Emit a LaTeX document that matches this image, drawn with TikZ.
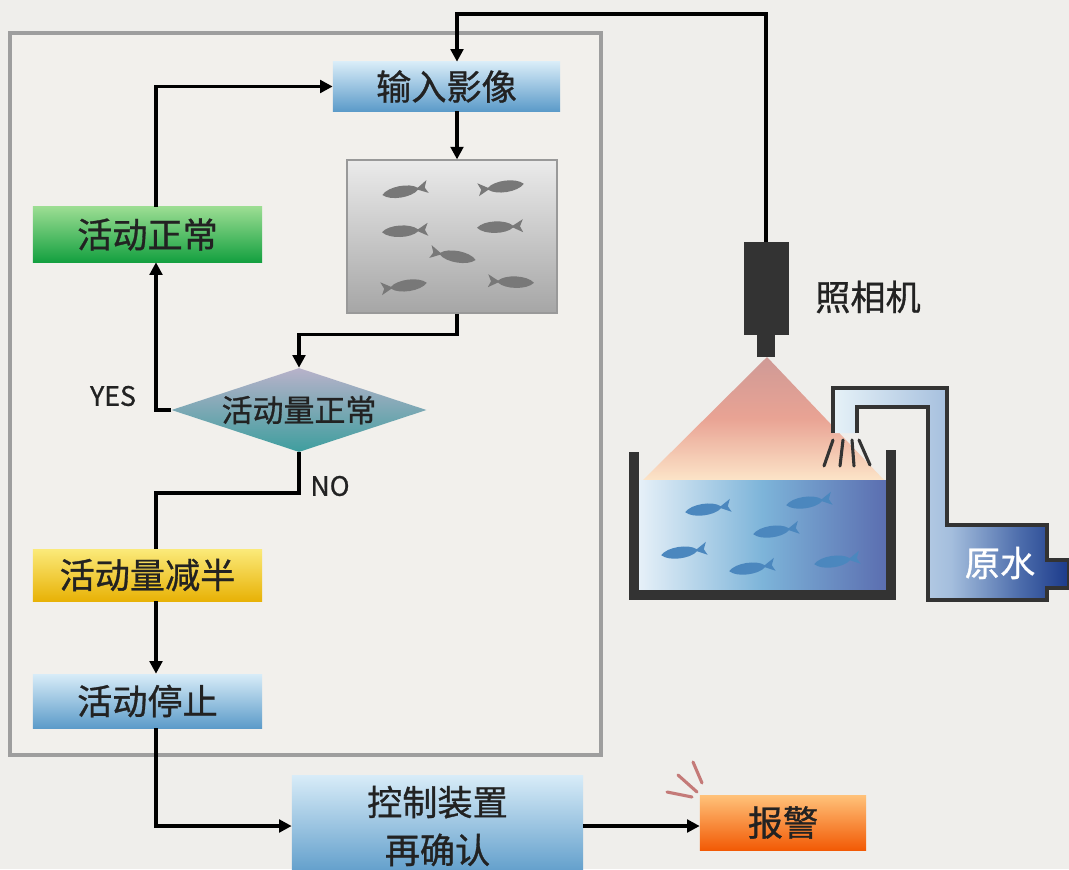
\documentclass[tikz,border=0pt]{standalone}
\usepackage{fontspec}
\newfontfamily\cjk[FakeBold=0.9]{Noto Sans CJK SC}
\usetikzlibrary{arrows.meta,shapes.geometric}
\definecolor{bgcol}{HTML}{EFEEEB}
\definecolor{panelbg}{HTML}{F2F0EC}
\definecolor{panelline}{HTML}{9E9E9E}
\definecolor{ink}{HTML}{222222}
\definecolor{blueTop}{HTML}{D8ECF8}
\definecolor{blueBot}{HTML}{5C9BC9}
\definecolor{greenTop}{HTML}{9BDD92}
\definecolor{greenBot}{HTML}{14A040}
\definecolor{yellowTop}{HTML}{FBEA7A}
\definecolor{yellowBot}{HTML}{E8B206}
\definecolor{orangeTop}{HTML}{FFC27A}
\definecolor{orangeBot}{HTML}{F25A05}
\definecolor{diaTop}{HTML}{B8B2CA}
\definecolor{diaBot}{HTML}{3E9E9E}
\definecolor{darkgear}{HTML}{333333}
\definecolor{coneTop}{HTML}{CF9A96}
\definecolor{coneMid}{HTML}{E9A394}
\definecolor{coneBot}{HTML}{FCE4C8}
\definecolor{waterL}{HTML}{E6F0F8}
\definecolor{waterM}{HTML}{7DB4D9}
\definecolor{waterR}{HTML}{5B6EB0}
\definecolor{pipeA}{HTML}{E6F2F8}
\definecolor{pipeB}{HTML}{A4BEDD}
\definecolor{pipeC}{HTML}{4A6AAA}
\definecolor{pipeD}{HTML}{1B3A8A}
\definecolor{fishgray}{HTML}{787878}
\definecolor{fishblue}{HTML}{4B87BE}
\definecolor{ringcol}{HTML}{C47A78}

\pgfdeclareverticalshading{coneshade}{100bp}{color(0bp)=(coneBot); color(25bp)=(coneBot); color(50bp)=(coneMid); color(75bp)=(coneTop); color(100bp)=(coneTop)}
\pgfdeclarehorizontalshading{watershade}{100bp}{color(0bp)=(waterL); color(25bp)=(waterL); color(50bp)=(waterM); color(75bp)=(waterR); color(100bp)=(waterR)}
\pgfdeclarehorizontalshading{pipeshade}{100bp}{color(0bp)=(pipeA); color(25bp)=(pipeA); color(50bp)=(pipeB); color(65bp)=(pipeC); color(75bp)=(pipeD); color(100bp)=(pipeD)}

\tikzset{
  fish/.pic={
    \fill (-23,0) .. controls (-16,-7.5) and (6,-7.5) .. (13,-1) -- (23,-7) -- (20,0)
      -- (23,6) -- (13,1) .. controls (6,7.5) and (-16,7.5) .. (-23,0) -- cycle;
  }
}

\begin{document}
\begin{tikzpicture}[x=0.025cm, y=-0.025cm,
    box/.style={font=\cjk\fontsize{25pt}{34pt}\selectfont, text=ink, align=center, inner sep=0pt},
    bluebox/.style={box, top color=blueTop, bottom color=blueBot},
    conn/.style={line width=2.6pt, -{Triangle[length=9pt,width=9pt]}},
    wire/.style={line width=2.6pt},
    lbl/.style={font=\cjk\fontsize{19pt}{22pt}\selectfont, text=ink}]
  \useasboundingbox (0,0) rectangle (1069,869);
  \fill[bgcol] (0,0) rectangle (1069,869);
  % processing unit
  \draw[panelline, line width=2.4pt, fill=panelbg] (10,33) rectangle (601,755);

  % light cone and tank
  \shade[shading=coneshade] (767,357) -- (884,480) -- (643,480) -- cycle;
  \shade[shading=watershade] (639,480) rectangle (886,591);
  \draw[darkgear, line width=6.5pt] (634,452) -- (634,595) -- (891,595) -- (891,450);
  \foreach \p in {(708,509),(809,502),(776,531),(684,552),(752,568),(837,561)}
    \pic[color=fishblue, rotate=8] at \p {fish};

  % inlet pipe
  \shade[shading=pipeshade, draw=darkgear, line width=2.2pt]
    (833,433) -- (833,388) -- (947,388) -- (947,525) -- (1047,525) -- (1047,560)
    -- (1069,560) -- (1069,588) -- (1047,588) -- (1047,600) -- (928,600)
    -- (928,407) -- (857,407) -- (857,433);
  \node[box, text=white] (raw) at (1000,563) {原水};
  % spray
  \draw[darkgear, line width=2.2pt, line cap=round]
    (833,440) -- (824,466) (843,440) -- (840,466)
    (852,440) -- (854,466) (859,440) -- (870,465);

  % camera
  \node[fill=darkgear, minimum width=1.125cm, minimum height=2.325cm, inner sep=0pt] (camera) at (766,288.5) {};
  \fill[darkgear] (757,334) rectangle (775,357);
  \node[box] (camlabel) at (868,297) {照相机};

  % flow chart
  \node[bluebox, minimum width=5.675cm, minimum height=1.225cm] (input) at (446.5,86.5) {输入影像};
  \node[top color=black!8, bottom color=black!35, draw=black!40, line width=0.8pt,
        minimum width=5.25cm, minimum height=3.825cm] (img) at (452,236.5) {};
  \node[box, top color=greenTop, bottom color=greenBot, minimum width=5.725cm, minimum height=1.375cm] (normal) at (147.5,234.5) {活动正常};
  \node[box, diamond, aspect=3, top color=diaTop, bottom color=diaBot, font=\cjk\fontsize{22pt}{26pt}\selectfont,
        minimum width=6.375cm, minimum height=2.1cm] (check) at (299,410) {活动量正常};
  \node[box, top color=yellowTop, bottom color=yellowBot, minimum width=5.725cm, minimum height=1.3cm] (half) at (147.5,575) {活动量减半};
  \node[bluebox, minimum width=5.725cm, minimum height=1.35cm] (stop) at (147.5,701) {活动停止};
  \node[bluebox, minimum width=7.275cm, minimum height=2.55cm] (ctrl) at (437.5,826) {控制装置\\再确认};
  \node[box, top color=orangeTop, bottom color=orangeBot, minimum width=4.15cm, minimum height=1.375cm] (alarm) at (783,822.5) {报警};
  \node[lbl] (yes) at (113,396) {YES};
  \node[lbl] (no) at (330,486) {NO};

  % fish in the captured frame
  \pic[color=fishgray, rotate=10] at (405,191) {fish};
  \pic[color=fishgray, rotate=8, xscale=-1] at (501,187) {fish};
  \pic[color=fishgray, rotate=3] at (405,231) {fish};
  \pic[color=fishgray, rotate=2] at (500,227) {fish};
  \pic[color=fishgray, rotate=-10, xscale=-1] at (453,256) {fish};
  \pic[color=fishgray, rotate=8, xscale=-1] at (404,286) {fish};
  \pic[color=fishgray, rotate=-2, xscale=-1] at (511,282) {fish};

  % alarm rays
  \draw[ringcol, line width=2.2pt, line cap=round]
    (693,762) -- (702,783) (678,775) -- (697,792) (667,792) -- (692,797);

  % connectors
  \coordinate (colL) at (156,0);
  \coordinate (colM) at (457,0);
  \coordinate (wiretop) at (766,14);
  \draw[conn] (camera.north) -- (wiretop) -| (input.north -| colM);
  \draw[conn] (input.south -| colM) -- (img.north -| colM);
  \draw[conn] (img.south -| colM) -- ++(0,21) -| (check.north);
  \draw[conn] (check.west) -| (normal.south -| colL);
  \draw[conn] (normal.north -| colL) |- (input.west);
  \draw[wire] (check.south) -- ++(0,41) -| (half.north -| colL);
  \draw[conn] (half.south -| colL) -- (stop.north -| colL);
  \draw[conn] (stop.south -| colL) |- (ctrl.west);
  \draw[conn] (ctrl.east) -- (ctrl.east -| alarm.west);
\end{tikzpicture}
\end{document}
